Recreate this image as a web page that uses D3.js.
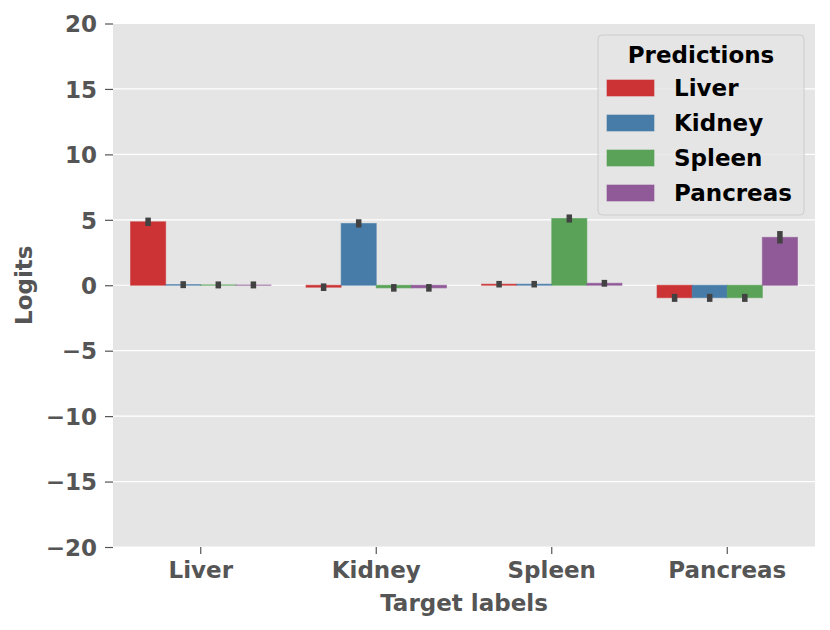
<!DOCTYPE html>
<html>
<head>
<meta charset="utf-8">
<script src="https://cdn.jsdelivr.net/npm/d3@7"></script>
<style>
  body { margin: 0; background: #fff; }
  svg { display: block; }
  svg text { font-family: "DejaVu Sans", sans-serif; font-weight: bold; }
</style>
</head>
<body>
<div id="chart"></div>
<script>
// Target labels (x categories) and prediction series
const targets = ["Liver", "Kidney", "Spleen", "Pancreas"];
const predictions = ["Liver", "Kidney", "Spleen", "Pancreas"];
const colors = ["#cb3335", "#477ca8", "#59a257", "#905998"];

// mean logits per prediction, one value per target label
const liverLogits    = [4.85, -0.15, 0.08, -0.95];
const kidneyLogits   = [0.05, 4.72, 0.08, -0.95];
const spleenLogits   = [0.03, -0.2, 5.1, -0.95];
const pancreasLogits = [0.02, -0.2, 0.15, 3.66];

// error bar extents (low, high) per prediction
const liverErr    = [[4.72, 4.98], [-0.25, -0.05], [0.02, 0.14], [-1.08, -0.85]];
const kidneyErr   = [[-0.03, 0.12], [4.6, 4.85], [0.02, 0.14], [-1.08, -0.85]];
const spleenErr   = [[-0.05, 0.1], [-0.3, -0.1], [4.98, 5.22], [-1.08, -0.85]];
const pancreasErr = [[-0.05, 0.1], [-0.3, -0.1], [0.08, 0.22], [3.38, 3.95]];

const yTicks = [-20, -15, -10, -5, 0, 5, 10, 15, 20];

const series = [
  { name: predictions[0], values: liverLogits, err: liverErr, color: colors[0] },
  { name: predictions[1], values: kidneyLogits, err: kidneyErr, color: colors[1] },
  { name: predictions[2], values: spleenLogits, err: spleenErr, color: colors[2] },
  { name: predictions[3], values: pancreasLogits, err: pancreasErr, color: colors[3] }
];

const W = 830, H = 630;
const margin = { top: 23.5, right: 15, bottom: 83, left: 113 };
const innerW = W - margin.left - margin.right;
const innerH = H - margin.top - margin.bottom;
const fontSize = "23px";

const svg = d3.select("#chart").append("svg")
  .attr("width", W)
  .attr("height", H);

const g = svg.append("g")
  .attr("transform", `translate(${margin.left},${margin.top})`);

const x0 = d3.scaleBand().domain(targets).range([0, innerW]).paddingInner(0.2).paddingOuter(0.1);
const x1 = d3.scaleBand().domain(predictions).range([0, x0.bandwidth()]);
const y = d3.scaleLinear().domain([-20, 20]).range([innerH, 0]);

// background + grid
g.append("rect")
  .attr("width", innerW)
  .attr("height", innerH)
  .attr("fill", "#e5e5e5");

g.selectAll(".grid")
  .data(yTicks)
  .enter()
  .append("line")
  .attr("x1", 0)
  .attr("x2", innerW)
  .attr("y1", d => y(d))
  .attr("y2", d => y(d))
  .attr("stroke", "#fff")
  .attr("stroke-width", 1.2);

// bars
const groups = g.selectAll(".series")
  .data(series)
  .enter()
  .append("g");

groups.selectAll("rect")
  .data(s => s.values.map((v, i) => ({ t: targets[i], v, s })))
  .enter()
  .append("rect")
  .attr("x", d => x0(d.t) + x1(d.s.name))
  .attr("width", x1.bandwidth())
  .attr("y", d => y(Math.max(0, d.v)))
  .attr("height", d => Math.abs(y(d.v) - y(0)))
  .attr("fill", d => d.s.color)
  .attr("stroke", d => d.s.color)
  .attr("stroke-opacity", 0.6)
  .attr("stroke-width", 1);

// error bars
groups.selectAll("line.err")
  .data(s => s.err.map((e, i) => ({ t: targets[i], e, s })))
  .enter()
  .append("line")
  .attr("class", "err")
  .attr("x1", d => x0(d.t) + x1(d.s.name) + x1.bandwidth() / 2)
  .attr("x2", d => x0(d.t) + x1(d.s.name) + x1.bandwidth() / 2)
  .attr("y1", d => y(d.e[0]) + 2.5)
  .attr("y2", d => y(d.e[1]) - 2.5)
  .attr("stroke", "#424242")
  .attr("stroke-width", 5.5);

// y axis
const yAxis = g.append("g")
  .call(d3.axisLeft(y).tickValues(yTicks).tickSize(8).tickPadding(8)
    .tickFormat(d => d < 0 ? "\u2212" + Math.abs(d) : d));
yAxis.attr("font-family", null).attr("font-size", null);
yAxis.select(".domain").remove();
yAxis.selectAll("line").attr("stroke", "#555").attr("stroke-width", 1.2);
yAxis.selectAll("text")
  .attr("fill", "#555")
  .style("font-size", fontSize)
  .attr("dy", "0.36em");

// x axis
const xAxis = g.append("g")
  .attr("transform", `translate(0,${innerH})`)
  .call(d3.axisBottom(x0).tickSize(7).tickPadding(8));
xAxis.attr("font-family", null).attr("font-size", null);
xAxis.select(".domain").remove();
xAxis.selectAll("line").attr("stroke", "#555").attr("stroke-width", 1.2);
xAxis.selectAll("text")
  .attr("fill", "#555")
  .style("font-size", fontSize);

// axis titles
svg.append("text")
  .attr("x", margin.left + innerW / 2)
  .attr("y", 611)
  .attr("text-anchor", "middle")
  .attr("fill", "#555")
  .style("font-size", fontSize)
  .text("Target labels");

svg.append("text")
  .attr("transform", `translate(32,${margin.top + innerH / 2}) rotate(-90)`)
  .attr("text-anchor", "middle")
  .attr("fill", "#555")
  .style("font-size", fontSize)
  .text("Logits");

// legend
const legend = svg.append("g").attr("transform", "translate(598,35)");
legend.append("rect")
  .attr("width", 206)
  .attr("height", 180)
  .attr("rx", 4)
  .attr("fill", "#e5e5e5")
  .attr("fill-opacity", 0.8)
  .attr("stroke", "#cccccc")
  .attr("stroke-width", 1);

legend.append("text")
  .attr("x", 103)
  .attr("y", 28)
  .attr("text-anchor", "middle")
  .attr("fill", "#000")
  .style("font-size", fontSize)
  .text("Predictions");

const items = legend.selectAll(".item")
  .data(series)
  .enter()
  .append("g")
  .attr("transform", (d, i) => `translate(0,${53 + i * 35})`);

items.append("rect")
  .attr("x", 9)
  .attr("y", -8)
  .attr("width", 47)
  .attr("height", 16)
  .attr("fill", d => d.color)
  .attr("stroke", d => d.color)
  .attr("stroke-opacity", 0.6);

items.append("text")
  .attr("x", 76)
  .attr("y", 8)
  .attr("fill", "#000")
  .style("font-size", fontSize)
  .text(d => d.name);
</script>
</body>
</html>
